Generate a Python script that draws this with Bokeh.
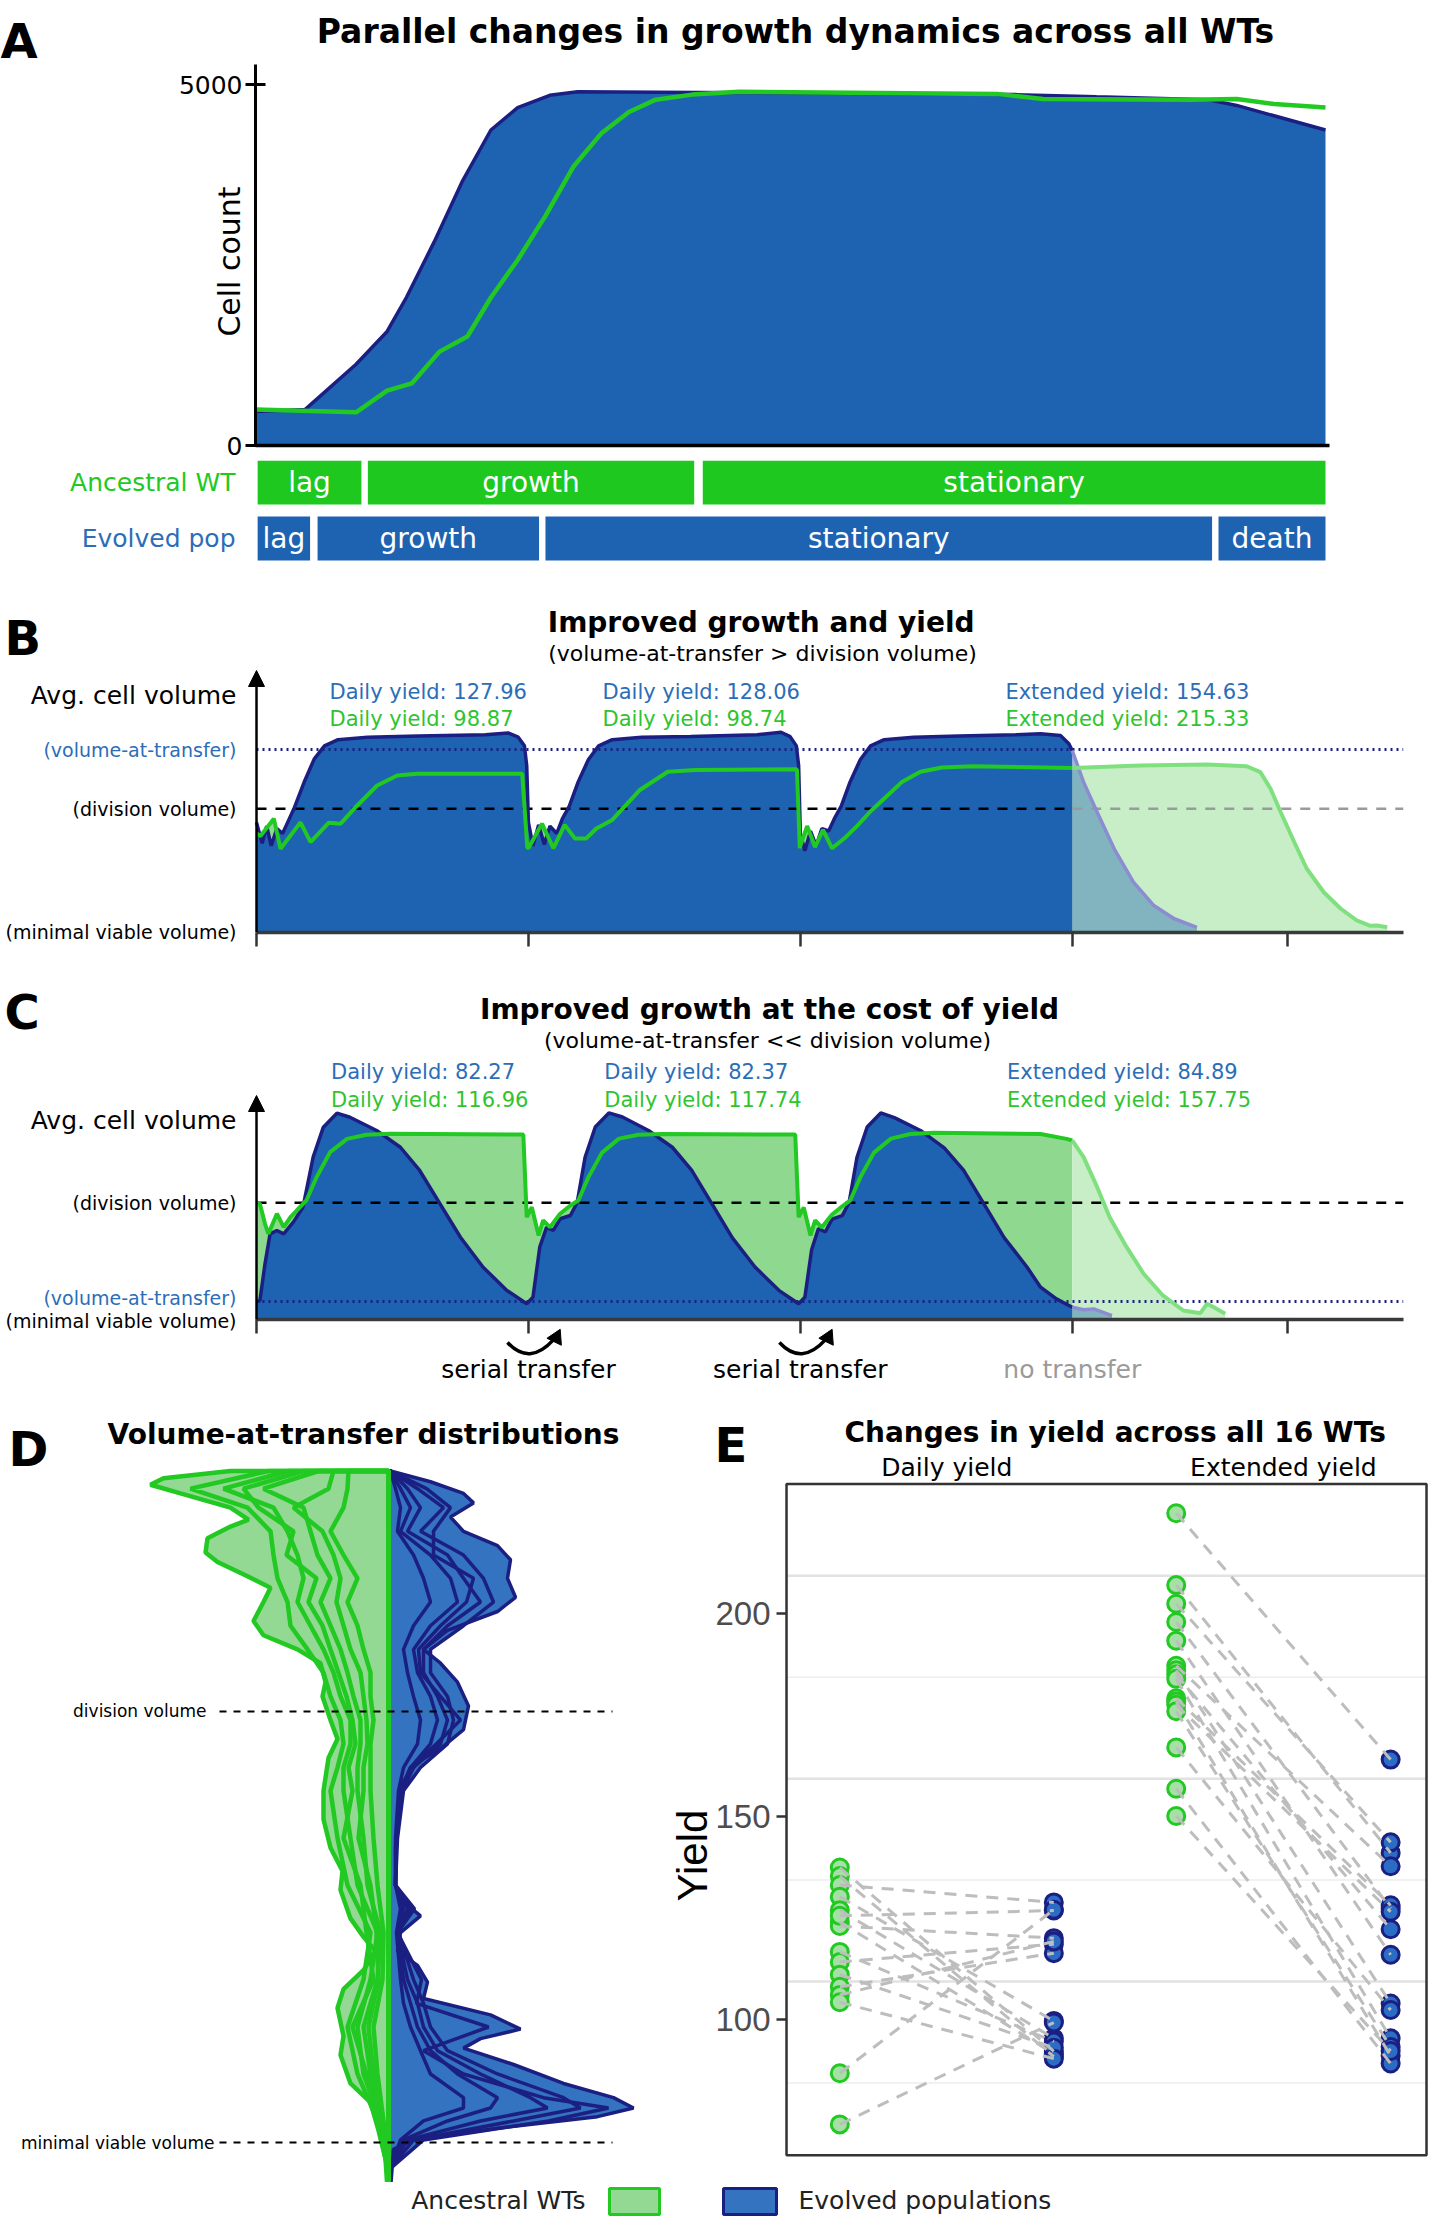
import math
from bokeh.plotting import figure
from bokeh.models import Label, Range1d, FixedTicker, Arrow, NormalHead
from bokeh.layouts import column, row
from bokeh.embed import file_html
from bokeh.resources import INLINE
from bokeh.core.properties import value

# ======================= DATA =======================
# ---- Panel A : growth curves (hours, cell count)
a_hours_evolved = [0, 4.65, 9.4, 12.3, 14.1, 16.7, 19.3, 22.0, 24.5, 27.5, 30.1, 41.4, 55.3, 71.0, 78.6, 89.1, 91.7, 100]
a_cells_evolved = [470, 500, 1125, 1580, 2050, 2820, 3650, 4370, 4680, 4850, 4900, 4890, 4880, 4860, 4830, 4790, 4710, 4370]
a_hours_ancestral = [0, 9.4, 12.3, 14.6, 17.2, 19.8, 22.0, 24.5, 27.1, 29.7, 32.3, 34.9, 37.4, 40.8, 45.2, 69.3, 73.6, 87.3, 91.7, 95.2, 100]
a_cells_ancestral = [500, 460, 760, 860, 1300, 1510, 2050, 2570, 3180, 3860, 4320, 4620, 4790, 4860, 4900, 4870, 4800, 4790, 4800, 4730, 4680]
a_cell_ticks = [0, 5000]
a_rows = ["Ancestral WT", "Evolved pop"]
a_anc_phases = ["lag", "growth", "stationary"]
a_anc_start = [0.2, 10.5, 41.8]
a_anc_end = [9.9, 41.0, 100.0]
a_evo_phases = ["lag", "growth", "stationary", "death"]
a_evo_start = [0.2, 5.8, 27.1, 90.0]
a_evo_end = [5.1, 26.5, 89.4, 100.0]

# ---- Panels B/C : average cell volume over time (hours)
time_ticks = [0, 24, 48, 72, 91]
transfer_times = [24, 48, 72]
transfer_labels = ["serial transfer", "serial transfer", "no transfer"]
level_names = ["Avg. cell volume", "(volume-at-transfer)", "(division volume)", "(minimal viable volume)"]

b_h_evo = [0.0, 0.5, 0.9, 1.3, 1.8, 2.3, 2.8, 3.3, 4.2, 5.1, 6.0, 7.2, 9.8, 14.3, 20.2, 22.2, 23.1, 23.65, 23.85,
           24.0, 24.4, 24.9, 25.4, 25.9, 26.5, 27.0, 27.6, 28.4, 29.3, 30.2, 31.4, 34.0, 38.3, 44.2, 46.3, 47.1, 47.65, 47.85,
           48.0, 48.4, 48.9, 49.4, 49.9, 50.5, 51.0, 51.6, 52.4, 53.3, 54.2, 55.4, 58.0, 62.0, 67.0, 69.2, 70.96, 71.7, 72.0,
           73.0, 74.2, 75.7, 77.4, 79.2, 81.0, 83.0]
b_v_evo = [0.89, 0.72, 0.86, 0.70, 0.84, 0.80, 0.90, 1.00, 1.215, 1.405, 1.51, 1.56, 1.58, 1.59, 1.60, 1.615, 1.58, 1.51, 1.35,
           0.89, 0.70, 0.87, 0.71, 0.86, 0.80, 0.92, 1.02, 1.22, 1.40, 1.51, 1.56, 1.58, 1.585, 1.60, 1.62, 1.585, 1.51, 1.35,
           0.80, 0.66, 0.82, 0.70, 0.84, 0.82, 0.92, 1.02, 1.22, 1.40, 1.51, 1.56, 1.58, 1.59, 1.60, 1.608, 1.594, 1.527, 1.472,
           1.216, 0.972, 0.676, 0.405, 0.216, 0.109, 0.04]
b_h_anc = [0.0, 0.35, 1.53, 2.12, 3.88, 4.77, 6.38, 7.41, 8.89, 10.65, 12.42, 14.18, 23.45, 23.9,
           24.0, 25.2, 26.2, 27.2, 28.1, 29.1, 30.0, 31.4, 32.6, 33.8, 36.3, 38.7, 47.7, 47.95,
           48.0, 48.6, 49.3, 50.0, 50.8, 52.0, 53.0, 54.2, 55.6, 57.0, 58.6, 60.5, 63.2, 72.0,
           78.0, 83.9, 87.4, 88.6, 89.5, 90.4, 91.6, 92.7, 94.2, 95.7, 97.1, 98.3, 98.9, 99.8]
b_v_anc = [0.80, 0.78, 0.92, 0.676, 0.89, 0.73, 0.887, 0.878, 1.027, 1.189, 1.27, 1.284, 1.284, 0.689,
           0.68, 0.88, 0.68, 0.87, 0.76, 0.76, 0.84, 0.91, 1.03, 1.15, 1.30, 1.315, 1.32, 0.68,
           0.70, 0.86, 0.69, 0.83, 0.68, 0.77, 0.86, 0.98, 1.10, 1.22, 1.30, 1.335, 1.345, 1.33,
           1.351, 1.359, 1.345, 1.297, 1.162, 0.972, 0.729, 0.514, 0.324, 0.19, 0.095, 0.052, 0.054, 0.04]
b_levels = [1.918, 1.48, 1.0, 0.0]          # label heights: avg, transfer, division, minimal
b_yield_names = ["Daily yield", "Daily yield", "Extended yield"]
b_yield_evolved = [127.96, 128.06, 154.63]
b_yield_ancestral = [98.87, 98.74, 215.33]

c_h_evo = [0.0, 0.3, 0.75, 1.2, 1.8, 2.4, 3.25, 4.1, 5.0, 5.9, 7.1, 8.25, 10.6, 12.7, 14.4, 16.2, 18.0, 20.0, 22.1, 23.85,
           24.4, 25.0, 25.6, 26.2, 26.8, 27.7, 28.3, 29.0, 29.9, 31.1, 32.3, 34.6, 36.7, 38.4, 40.2, 42.0, 44.0, 46.1, 47.85,
           48.4, 49.0, 49.6, 50.2, 50.8, 51.7, 52.3, 53.0, 53.9, 55.1, 56.3, 58.6, 60.7, 62.4, 64.2, 66.0, 68.0, 69.2, 70.6, 72.0,
           73.0, 73.9, 75.5]
c_v_evo = [0.154, 0.163, 0.477, 0.734, 0.763, 0.734, 0.834, 0.962, 1.391, 1.648, 1.768, 1.733, 1.62, 1.476, 1.277, 0.991, 0.705, 0.448, 0.249, 0.135,
           0.191, 0.62, 0.79, 0.763, 0.863, 0.891, 1.0, 1.39, 1.65, 1.77, 1.735, 1.62, 1.476, 1.28, 0.99, 0.70, 0.45, 0.25, 0.135,
           0.19, 0.60, 0.78, 0.75, 0.86, 0.89, 1.0, 1.39, 1.65, 1.77, 1.73, 1.62, 1.47, 1.28, 0.99, 0.70, 0.45, 0.277, 0.177, 0.105,
           0.083, 0.091, 0.034]
c_h_anc = [0.0, 0.3, 0.75, 1.05, 1.8, 2.4, 3.0, 3.55, 4.4, 5.3, 6.5, 8.0, 9.7, 11.8, 23.55, 23.85,
           24.3, 24.9, 25.3, 25.9, 26.8, 27.7, 28.4, 29.3, 30.5, 32.0, 33.7, 35.8, 47.55, 47.85,
           48.3, 48.9, 49.3, 49.9, 50.8, 51.7, 52.4, 53.3, 54.5, 56.0, 57.7, 59.8, 69.2, 71.5, 72.0,
           73.0, 74.2, 75.3, 76.8, 78.3, 80.0, 81.8, 83.3, 83.9, 84.5, 85.5]
c_v_anc = [1.0, 0.991, 0.82, 0.734, 0.906, 0.791, 0.877, 0.934, 1.02, 1.219, 1.434, 1.548, 1.583, 1.591, 1.585, 0.877,
           0.962, 0.72, 0.849, 0.791, 0.906, 0.977, 1.02, 1.22, 1.43, 1.55, 1.583, 1.59, 1.585, 0.877,
           0.96, 0.72, 0.85, 0.79, 0.90, 0.97, 1.02, 1.22, 1.43, 1.55, 1.59, 1.60, 1.59, 1.548, 1.534,
           1.391, 1.134, 0.877, 0.62, 0.392, 0.206, 0.077, 0.054, 0.135, 0.105, 0.049]
c_levels = [1.705, 0.18, 1.0, -0.017]
c_yield_names = ["Daily yield", "Daily yield", "Extended yield"]
c_yield_evolved = [82.27, 82.37, 84.89]
c_yield_ancestral = [116.96, 117.74, 157.75]

# ---- Panel D : volume-at-transfer densities (volume levels, density a.u.)
d_anc_outer_v = [1.558, 1.541, 1.526, 1.506, 1.473, 1.445, 1.429, 1.402, 1.369, 1.347, 1.314, 1.287, 1.254, 1.21, 1.177,
                 1.144, 1.112, 1.068, 1.035, 0.98, 0.936, 0.892, 0.816, 0.75, 0.684, 0.63, 0.586, 0.52, 0.477, 0.444, 0.4,
                 0.356, 0.312, 0.247, 0.203, 0.137, 0.093, 0.028, -0.038, -0.109]
d_anc_outer_w = [1.58, 2.25, 2.38, 2.08, 1.58, 1.40, 1.58, 1.81, 1.83, 1.71, 1.41, 1.18, 1.25, 1.35, 1.25,
                 0.91, 0.68, 0.63, 0.66, 0.58, 0.51, 0.60, 0.65, 0.65, 0.58, 0.46, 0.48, 0.38, 0.25, 0.13, 0.25,
                 0.45, 0.51, 0.45, 0.48, 0.38, 0.18, 0.10, 0.03, 0.01]
d_anc_v = [1.558, 1.517, 1.473, 1.418, 1.363, 1.309, 1.254, 1.199, 1.144, 1.09, 1.035, 0.98, 0.925, 0.87, 0.816,
           0.706, 0.597, 0.487, 0.378, 0.268, 0.159, 0.05, -0.06, -0.109]
d_anc_w1 = [1.20, 1.98, 1.41, 1.18, 1.15, 1.11, 1.01, 0.98, 0.81, 0.65, 0.58, 0.48, 0.45, 0.51, 0.58, 0.51, 0.41, 0.18, 0.25, 0.41, 0.31, 0.11, 0.01, 0.01]
d_anc_w2 = [1.00, 1.65, 1.15, 1.01, 0.91, 0.85, 0.91, 0.78, 0.65, 0.55, 0.48, 0.38, 0.38, 0.45, 0.45, 0.38, 0.31, 0.11, 0.18, 0.31, 0.25, 0.08, 0.01, 0.01]
d_anc_w3 = [0.70, 1.25, 0.85, 0.78, 0.71, 0.58, 0.68, 0.58, 0.48, 0.41, 0.35, 0.28, 0.28, 0.31, 0.31, 0.25, 0.21, 0.08, 0.11, 0.25, 0.18, 0.06, 0.01, 0.01]
d_anc_w4 = [0.40, 0.41, 0.45, 0.58, 0.45, 0.31, 0.41, 0.31, 0.25, 0.18, 0.18, 0.15, 0.18, 0.18, 0.18, 0.15, 0.11, 0.05, 0.06, 0.15, 0.11, 0.05, 0.00, 0.00]
d_anc_w5 = [0.85, 1.45, 1.30, 0.95, 1.02, 0.72, 0.80, 0.66, 0.58, 0.50, 0.42, 0.36, 0.33, 0.40, 0.36, 0.45, 0.28, 0.22, 0.15, 0.36, 0.22, 0.09, 0.01, 0.01]
d_anc_w6 = [0.55, 0.60, 0.95, 0.66, 0.55, 0.48, 0.52, 0.45, 0.38, 0.28, 0.25, 0.22, 0.21, 0.25, 0.25, 0.30, 0.18, 0.12, 0.10, 0.20, 0.15, 0.07, 0.00, 0.00]
d_evo_outer_v = [1.558, 1.533, 1.506, 1.484, 1.451, 1.418, 1.385, 1.352, 1.309, 1.265, 1.232, 1.188, 1.144, 1.112, 1.068,
                 1.013, 0.958, 0.914, 0.882, 0.838, 0.761, 0.684, 0.597, 0.564, 0.526, 0.487, 0.444, 0.411, 0.372, 0.334,
                 0.296, 0.263, 0.241, 0.219, 0.181, 0.137, 0.104, 0.08, 0.06, 0.033, 0.006, -0.016, -0.109]
d_evo_outer_w = [0.02, 0.42, 0.75, 0.85, 0.62, 0.75, 1.09, 1.22, 1.19, 1.27, 1.09, 0.59, 0.35, 0.52, 0.69,
                 0.80, 0.75, 0.52, 0.29, 0.15, 0.10, 0.07, 0.07, 0.12, 0.32, 0.12, 0.09, 0.29, 0.39, 0.35,
                 1.02, 1.32, 0.92, 0.75, 1.25, 1.75, 2.25, 2.45, 2.09, 1.09, 0.25, 0.05, 0.02]
d_evo_v = [1.558, 1.517, 1.473, 1.418, 1.363, 1.309, 1.254, 1.199, 1.144, 1.09, 1.035, 0.98, 0.925, 0.87, 0.816,
           0.706, 0.597, 0.542, 0.487, 0.378, 0.323, 0.268, 0.213, 0.159, 0.104, 0.08, 0.05, 0.006, -0.06]
d_evo_w1 = [0.02, 0.29, 0.55, 0.32, 0.75, 0.95, 1.05, 0.75, 0.42, 0.42, 0.59, 0.65, 0.59, 0.32, 0.15, 0.09, 0.07, 0.22, 0.10, 0.25, 0.35, 0.42, 0.59, 1.09, 1.75, 1.92, 1.25, 0.25, 0.02]
d_evo_w2 = [0.02, 0.19, 0.32, 0.19, 0.59, 0.75, 0.92, 0.59, 0.35, 0.35, 0.49, 0.59, 0.52, 0.25, 0.14, 0.08, 0.07, 0.19, 0.09, 0.19, 0.29, 0.35, 0.49, 0.92, 1.42, 1.59, 0.92, 0.19, 0.02]
d_evo_w3 = [0.02, 0.12, 0.22, 0.12, 0.42, 0.62, 0.69, 0.42, 0.25, 0.29, 0.42, 0.49, 0.42, 0.22, 0.12, 0.08, 0.07, 0.15, 0.09, 0.15, 0.22, 0.29, 0.42, 0.69, 1.09, 1.02, 0.59, 0.15, 0.02]
d_evo_w4 = [0.02, 0.07, 0.12, 0.09, 0.25, 0.35, 0.42, 0.25, 0.15, 0.19, 0.25, 0.32, 0.29, 0.15, 0.10, 0.07, 0.07, 0.12, 0.08, 0.12, 0.15, 0.22, 0.32, 0.42, 0.75, 0.75, 0.35, 0.12, 0.02]
d_evo_w5 = [0.02, 0.38, 0.62, 0.45, 0.45, 0.85, 0.78, 0.52, 0.30, 0.32, 0.52, 0.72, 0.48, 0.22, 0.12, 0.08, 0.07, 0.26, 0.09, 0.33, 0.28, 1.00, 0.35, 0.75, 1.55, 2.20, 1.60, 0.35, 0.02]
d_ref_levels = [1.0, 0.0]
d_ref_names = ["division volume", "minimal viable volume"]

# ---- Panel E : yields of the 16 WTs
e_facets = ["Daily yield", "Extended yield"]
daily_ancestral = [137.4, 135.3, 133.1, 130.2, 126.9, 124.0, 123.0, 125.5, 116.6, 114.1, 111.0, 108.0, 106.0, 104.2, 86.7, 74.1]
daily_evolved = [92.1, 90.8, 128.8, 99.6, 95.3, 91.5, 120.0, 126.8, 94.5, 118.5, 93.0, 116.3, 119.2, 90.3, 127.0, 99.2]
extended_ancestral = [224.7, 207.0, 202.4, 197.9, 193.3, 187.1, 186.0, 185.0, 183.9, 179.1, 178.3, 177.5, 175.9, 167.0, 156.8, 150.1]
extended_evolved = [164.0, 141.0, 143.6, 127.3, 115.9, 137.7, 103.9, 122.2, 95.3, 128.1, 91.0, 126.5, 93.2, 102.3, 89.1, 92.2]
e_yield_ticks = [100, 150, 200]
e_grid_major = [109.3, 159.3, 209.3]
e_grid_minor = [84.3, 134.3, 184.3]
legend_labels = ["Ancestral WTs", "Evolved populations"]

# ======================= STYLE =======================
FONT = "DejaVu Sans"
ARIAL = "Liberation Sans"
BLUE = "#1e63b2"
NAVY = "#1c1f82"
GREEN = "#22c922"
GREEN_BAR = "#1ec81e"
GREEN_FILL = "#8fd88f"
GREEN_LIGHT = "#c8eec8"
GREEN_LINE_LIGHT = "#80e080"
BLUE_TEXT = "#2c6db8"
GREEN_TEXT = "#2fc42f"
TAIL_LINE = "#8c8cd2"
D_GREEN_FILL = "#93d993"
D_BLUE_FILL = "#3473bf"
W = 1428


def base_fig(width, height, xr, yr):
    # the frame fills the whole figure; axes are pinned inside with fixed_location
    p = figure(width=width, height=height, x_range=Range1d(*xr), y_range=Range1d(*yr),
               output_backend="svg", toolbar_location=None, title=None,
               min_border_left=0, min_border_right=0, min_border_top=0, min_border_bottom=0)
    p.outline_line_color = None
    p.grid.visible = False
    return p


def lab(p, x, y, text, size, color="black", bold=False, align="left", baseline="middle", angle=0.0, font=FONT):
    p.add_layout(Label(x=x, y=y, text=text, text_font=font, text_font_size=f"{size}px",
                       text_color=color, text_font_style="bold" if bold else "normal",
                       text_align=align, text_baseline=baseline, angle=angle))


# ======================= PANEL A =======================
A_PX = 10.70            # px per hour
A_CPX = 0.0722          # px per cell
A_X0 = 255              # pixel of hour 0
A_Y0 = 445              # pixel of zero cells
A_H = 460
pA = base_fig(W, A_H, (-A_X0 / A_PX, (W - A_X0) / A_PX), (-(A_H - A_Y0) / A_CPX, A_Y0 / A_CPX))
pA.varea(x=a_hours_evolved, y1=0, y2=a_cells_evolved, fill_color=BLUE)
pA.line(a_hours_evolved, a_cells_evolved, line_color=NAVY, line_width=3.5)
pA.line(a_hours_ancestral, a_cells_ancestral, line_color=GREEN, line_width=4.5)
pA.yaxis.fixed_location = 0
pA.yaxis.bounds = (0, (A_Y0 - 64) / A_CPX)
pA.yaxis.ticker = FixedTicker(ticks=a_cell_ticks)
pA.yaxis.major_label_text_font = FONT
pA.yaxis.major_label_text_font_size = "25px"
pA.yaxis.major_label_text_color = "black"
pA.yaxis.major_label_standoff = 3
pA.yaxis.major_tick_in = 10
pA.yaxis.major_tick_out = 10
pA.yaxis.major_tick_line_width = 3
pA.yaxis.minor_tick_line_color = None
pA.yaxis.axis_line_width = 3
pA.xaxis.fixed_location = 0
pA.xaxis.bounds = (0, 100.4)
pA.xaxis.ticker = FixedTicker(ticks=[])
pA.xaxis.major_tick_line_color = None
pA.xaxis.minor_tick_line_color = None
pA.xaxis.axis_line_width = 3.5
lab(pA, -A_X0 / A_PX, (A_Y0 - 40) / A_CPX, "A", 48, bold=True, baseline="alphabetic")
lab(pA, (795 - A_X0) / A_PX, (A_Y0 - 31) / A_CPX, "Parallel changes in growth dynamics across all WTs", 33, bold=True, align="center")
lab(pA, (229 - A_X0) / A_PX, (A_Y0 - 261) / A_CPX, "Cell count", 30, align="center", angle=math.pi / 2)

# phase bars (rows 56 px apart)
pP = base_fig(W, 118, (-A_X0 / A_PX, (W - A_X0) / A_PX), (-40 / 56, 1 + 22 / 56))
pP.axis.visible = False
pP.hbar(y=[1] * len(a_anc_phases), left=a_anc_start, right=a_anc_end, height=0.79, fill_color=GREEN_BAR, line_color=None)
pP.hbar(y=[0] * len(a_evo_phases), left=a_evo_start, right=a_evo_end, height=0.79, fill_color=BLUE, line_color=None)
pP.text(x=[(s + e) / 2 for s, e in zip(a_anc_start, a_anc_end)], y=[1] * len(a_anc_phases), text=a_anc_phases,
        text_font=value(FONT), text_font_size="28px", text_color="white", text_align="center", text_baseline="middle")
pP.text(x=[(s + e) / 2 for s, e in zip(a_evo_start, a_evo_end)], y=[0] * len(a_evo_phases), text=a_evo_phases,
        text_font=value(FONT), text_font_size="28px", text_color="white", text_align="center", text_baseline="middle")
pP.text(x=[(235 - A_X0) / A_PX] * 2, y=[1, 0], text=a_rows, text_color=[GREEN, BLUE_TEXT],
        text_font=value(FONT), text_font_size="25px", text_align="right", text_baseline="middle")


# ======================= PANELS B / C =======================
BC_PX = 11.33
BC_X0 = 256


def split(h, v, stop):
    main = [(a, b) for a, b in zip(h, v) if a <= stop]
    tail = [(a, b) for a, b in zip(h, v) if a >= stop]
    return ([m[0] for m in main], [m[1] for m in main]), ([t[0] for t in tail], [t[1] for t in tail])


def cycle_fig(height, zero_px, unit_px, y_top, h_evo, v_evo, h_anc, v_anc, div, transfer, after_color):
    x_end = (1402.7 - BC_X0) / BC_PX
    p = base_fig(W, height, (-BC_X0 / BC_PX, (W - BC_X0) / BC_PX),
                 (-(height - zero_px) / unit_px, zero_px / unit_px))
    p.yaxis.visible = False
    p.xaxis.fixed_location = 0
    p.xaxis.bounds = (0, x_end)
    p.xaxis.ticker = FixedTicker(ticks=time_ticks)
    p.xaxis.major_label_overrides = {t: "" for t in time_ticks}
    p.xaxis.major_tick_out = 14
    p.xaxis.major_tick_in = 0
    p.xaxis.major_tick_line_width = 2.5
    p.xaxis.major_tick_line_color = "#333333"
    p.xaxis.minor_tick_line_color = None
    p.xaxis.axis_line_width = 3.5
    p.xaxis.axis_line_color = "#3a3a3a"
    stop = transfer_times[-1]
    (ehm, evm), (eht, evt) = split(h_evo, v_evo, stop)
    (ahm, avm), (aht, avt) = split(h_anc, v_anc, stop)
    p.varea(x=ahm, y1=0, y2=avm, fill_color=GREEN_FILL)
    p.varea(x=aht, y1=0, y2=avt, fill_color=GREEN_LIGHT)
    p.varea(x=ehm, y1=0, y2=evm, fill_color=BLUE)
    p.varea(x=eht, y1=0, y2=evt, fill_color=BLUE, fill_alpha=0.42)
    p.line([0, stop], [div, div], line_color="black", line_width=2.5, line_dash="10 9")
    p.line([stop, x_end], [div, div], line_color=after_color, line_width=2.5, line_dash="10 9")
    p.line([0, x_end], [transfer, transfer], line_color=NAVY, line_width=3, line_dash="2 4")
    p.line(ehm, evm, line_color=NAVY, line_width=3.5)
    p.line(eht, evt, line_color=TAIL_LINE, line_width=3.5)
    p.line(ahm, avm, line_color=GREEN, line_width=4)
    p.line(aht, avt, line_color=GREEN_LINE_LIGHT, line_width=4)
    p.add_layout(Arrow(end=NormalHead(size=16, fill_color="black", line_color="black", line_width=1),
                       x_start=0, y_start=0, x_end=0, y_end=y_top, line_width=2.5, line_color="black"))
    return p


LEFT_X = (236 - BC_X0) / BC_PX
LETTER_X = (4 - BC_X0) / BC_PX

pB = cycle_fig(388, 353.7, 123.4, (931.7 - 670) / 123.4, b_h_evo, b_v_evo, b_h_anc, b_v_anc, 1.0, 1.48, "#9a9a9a")
lab(pB, LETTER_X, 2.388, "B", 48, bold=True, baseline="alphabetic")
lab(pB, 44.54, 2.51, "Improved growth and yield", 28, bold=True, align="center")
lab(pB, 44.66, 2.259, "(volume-at-transfer > division volume)", 22, align="center")
for i, (name, ev, an) in enumerate(zip(b_yield_names, b_yield_evolved, b_yield_ancestral)):
    xx = [6.44, 30.54, 66.1][i]
    lab(pB, xx, 1.943, f"{name}: {ev:.2f}", 21, color=BLUE_TEXT)
    lab(pB, xx, 1.724, f"{name}: {an:.2f}", 21, color=GREEN_TEXT)
for name, yy, col, sz in zip(level_names, b_levels, ["black", BLUE_TEXT, "black", "black"], [25, 19, 19, 19]):
    lab(pB, LEFT_X, yy, name, sz, color=col, align="right")

pC = cycle_fig(432, 353, 116.7, 224 / 116.7, c_h_evo, c_v_evo, c_h_anc, c_v_anc, 1.0, 0.154, "black")
lab(pC, LETTER_X, 2.631, "C", 48, bold=True, baseline="alphabetic")
lab(pC, 45.28, 2.656, "Improved growth at the cost of yield", 28, bold=True, align="center")
lab(pC, 45.1, 2.391, "(volume-at-transfer << division volume)", 22, align="center")
for i, (name, ev, an) in enumerate(zip(c_yield_names, c_yield_evolved, c_yield_ancestral)):
    xx = [6.58, 30.69, 66.24][i]
    lab(pC, xx, 2.117, f"{name}: {ev:.2f}", 21, color=BLUE_TEXT)
    lab(pC, xx, 1.885, f"{name}: {an:.2f}", 21, color=GREEN_TEXT)
for name, yy, col, sz in zip(level_names, c_levels, ["black", BLUE_TEXT, "black", "black"], [25, 19, 19, 19]):
    lab(pC, LEFT_X, yy, name, sz, color=col, align="right")
# serial-transfer annotations below C
serial = transfer_times[:2]
pC.quadratic(x0=[t - 1.85 for t in serial], y0=-0.197, x1=[t + 2.2 for t in serial], y1=-0.175,
             cx=[t + 0.1 for t in serial], cy=-0.40, line_color="black", line_width=3.5)
pC.scatter(x=[t + 2.45 for t in serial], y=-0.155, marker="triangle", size=16, angle=-0.45,
           fill_color="black", line_color="black")
pC.text(x=transfer_times, y=-0.428, text=transfer_labels, text_color=["black", "black", "#9a9a9a"],
        text_font=value(FONT), text_font_size="25px", text_align="center", text_baseline="middle")

# ======================= PANEL D =======================
pD = base_fig(660, 784, (-3.88, 2.72), (-0.0928, 1.7262))
pD.axis.visible = False


def poly(levels, widths, sign):
    xs = [0.0] + [sign * w for w in widths] + [0.0]
    ys = [levels[0]] + list(levels) + [levels[-1]]
    return xs, ys


green_polys = [poly(d_anc_outer_v, d_anc_outer_w, -1)] + \
    [poly(d_anc_v, w, -1) for w in (d_anc_w1, d_anc_w5, d_anc_w2, d_anc_w3, d_anc_w6, d_anc_w4)]
blue_polys = [poly(d_evo_outer_v, d_evo_outer_w, 1)] + \
    [poly(d_evo_v, w, 1) for w in (d_evo_w5, d_evo_w1, d_evo_w2, d_evo_w3, d_evo_w4)]
pD.patches(xs=[g[0] for g in green_polys], ys=[g[1] for g in green_polys], fill_color=D_GREEN_FILL, line_color=None)
pD.patches(xs=[b[0] for b in blue_polys], ys=[b[1] for b in blue_polys], fill_color=D_BLUE_FILL, line_color=None)
pD.patches(xs=[b[0] for b in blue_polys], ys=[b[1] for b in blue_polys], fill_alpha=0, line_color=NAVY, line_width=3.5)
pD.patches(xs=[g[0] for g in green_polys], ys=[g[1] for g in green_polys], fill_alpha=0, line_color=GREEN, line_width=4.5)
for lvl, name, xl in zip(d_ref_levels, d_ref_names, [-1.82, -1.74]):
    pD.line([-1.69, 2.24], [lvl, lvl], line_color="black", line_width=2, line_dash="7 7")
    lab(pD, xl, lvl, name, 17, align="right")
lab(pD, -3.80, 1.61, "D", 48, bold=True, baseline="alphabetic")
lab(pD, -0.25, 1.643, "Volume-at-transfer distributions", 28, bold=True, align="center")

# ======================= PANEL E =======================
E_BOX = (-0.249, 2.7416, 66.49, 231.91)     # left, right, bottom, top of the panel box
pE = base_fig(768, 784, (-0.8379, 2.7509), (59.78, 252.98))
pE.xaxis.visible = False
pE.yaxis.fixed_location = E_BOX[0]
pE.yaxis.bounds = (E_BOX[2], E_BOX[3])
pE.yaxis.ticker = FixedTicker(ticks=e_yield_ticks)
pE.yaxis.axis_line_color = None
pE.yaxis.major_tick_out = 10
pE.yaxis.major_tick_in = 0
pE.yaxis.major_tick_line_width = 2.5
pE.yaxis.major_tick_line_color = "#333333"
pE.yaxis.minor_tick_line_color = None
pE.yaxis.major_label_text_font = ARIAL
pE.yaxis.major_label_text_font_size = "33px"
pE.yaxis.major_label_text_color = "#4d4d4d"
pE.yaxis.major_label_standoff = 6
pE.segment(x0=E_BOX[0], x1=E_BOX[1], y0=e_grid_major, y1=e_grid_major, line_color="#e2e2e2", line_width=2.5)
pE.segment(x0=E_BOX[0], x1=E_BOX[1], y0=e_grid_minor, y1=e_grid_minor, line_color="#ededed", line_width=1.5)
e_pos = [0.0, 1.0, 1.572, 2.574]
n = len(daily_ancestral)
for xp, vals, fc, lc in [(e_pos[0], daily_ancestral, "#a6e0a6", GREEN), (e_pos[1], daily_evolved, "#2b6cc4", NAVY),
                         (e_pos[2], extended_ancestral, "#a6e0a6", GREEN), (e_pos[3], extended_evolved, "#2b6cc4", NAVY)]:
    pE.scatter(x=[xp] * len(vals), y=vals, size=17, marker="circle", fill_color=fc, line_color=lc, line_width=3)
pE.segment(x0=[e_pos[0]] * n, y0=daily_ancestral, x1=[e_pos[1]] * n, y1=daily_evolved,
           line_color="#bdbdbd", line_width=3, line_dash="12 9")
pE.segment(x0=[e_pos[2]] * n, y0=extended_ancestral, x1=[e_pos[3]] * n, y1=extended_evolved,
           line_color="#bdbdbd", line_width=3, line_dash="12 9")
pE.quad(left=E_BOX[0], right=E_BOX[1], bottom=E_BOX[2], top=E_BOX[3], fill_color=None,
        line_color="#333333", line_width=2.5)
lab(pE, -0.5855, 241.4, "E", 48, bold=True, baseline="alphabetic")
lab(pE, 1.2865, 244.7, "Changes in yield across all 16 WTs", 28, bold=True, align="center")
lab(pE, (e_pos[0] + e_pos[1]) / 2, 235.98, e_facets[0], 25, align="center")
lab(pE, (e_pos[2] + e_pos[3]) / 2, 235.98, e_facets[1], 25, align="center")
lab(pE, -0.688, 140.36, "Yield", 42, align="center", angle=math.pi / 2, font=ARIAL)

# ======================= LEGEND =======================
pL = base_fig(W, 34, (0, W), (0, 34))
pL.axis.visible = False
pL.rect(x=[634, 749.5], y=[15, 15], width=[50, 53], height=[26, 26],
        fill_color=[D_GREEN_FILL, D_BLUE_FILL], line_color=[GREEN, NAVY], line_width=3)
pL.text(x=[585], y=[16], text=legend_labels[:1], text_font=value(FONT), text_font_size="25px",
        text_align="right", text_baseline="middle", text_color="#222222")
pL.text(x=[798], y=[16], text=legend_labels[1:], text_font=value(FONT), text_font_size="25px",
        text_align="left", text_baseline="middle", text_color="#222222")

layout = column(pA, pP, pB, pC, row(pD, pE), pL)
open("out.html", "w").write(file_html(layout, INLINE, title="Growth dynamics"))
